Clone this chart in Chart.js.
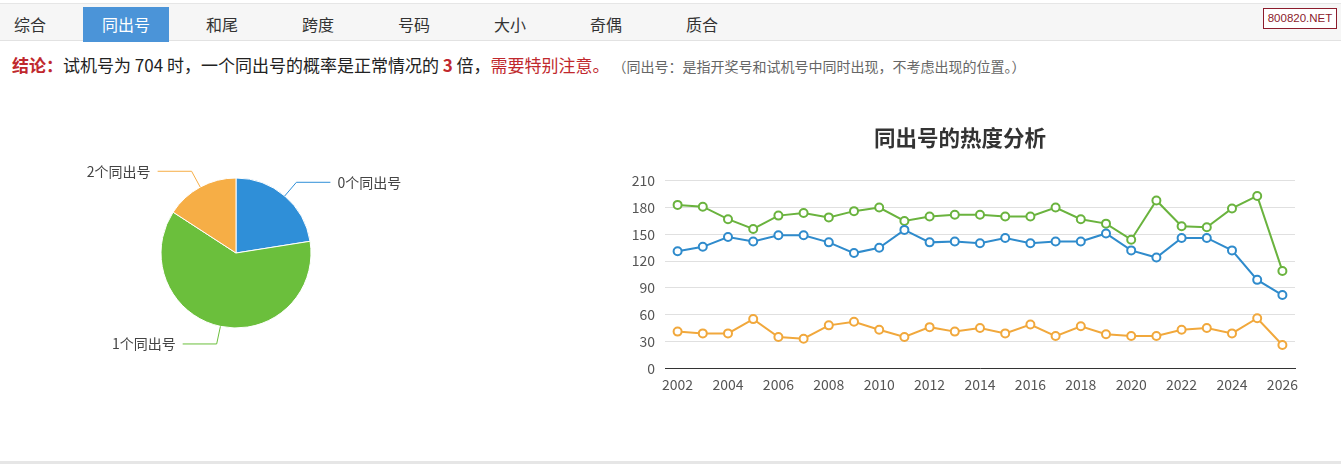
<!DOCTYPE html>
<html>
<head>
<meta charset="utf-8">
<script src="https://cdn.jsdelivr.net/npm/chart.js@4.4.1/dist/chart.umd.min.js"></script>
<style>
  html,body{margin:0;padding:0;background:#fff;width:1341px;height:464px;overflow:hidden;
    font-family:"Microsoft YaHei","Noto Sans CJK SC","Noto Sans",sans-serif;}
  #tabbar{position:absolute;left:0;top:3px;width:1341px;height:38px;background:#f6f6f6;
    border-top:1px solid #e6e6e6;border-bottom:1px solid #e2e2e2;box-sizing:border-box;}
  .tab{position:absolute;top:3px;width:86px;height:35px;line-height:34px;text-align:center;
    font-size:16px;color:#333;}
  .tab.active{background:#4b94d8;color:#fff;}
  #logo{position:absolute;left:1263px;top:8px;width:74px;height:21px;box-sizing:border-box;
    border:1px solid #8c1c2c;background:#fff;color:#8c1c2c;font-family:"Liberation Sans",Arial,sans-serif;
    font-size:11.5px;line-height:19px;text-align:center;}
  #concl{position:absolute;left:12px;top:52px;white-space:nowrap;font-size:17px;color:#222;line-height:26px;}
  #concl .r{color:#c0282d;}
  #concl .b{font-weight:bold;}
  #concl .note{color:#666;font-size:14px;margin-left:10px;}
  #bottomline{position:absolute;left:0;top:461px;width:1341px;height:3px;background:#e6e6e6;}
  #pieWrap{position:absolute;left:0;top:103px;width:472px;height:300px;}
  #lineWrap{position:absolute;left:625px;top:110px;width:720px;height:300px;}
</style>
</head>
<body>
<div id="tabbar"></div>
<div id="logo">800820.NET</div>
<div id="concl"><span class="r b">结论：</span>试机号为 704 时，一个同出号的概率是正常情况的 <span class="r b">3</span> 倍，<span class="r">需要特别注意。</span><span class="note">（同出号：是指开奖号和试机号中同时出现，不考虑出现的位置。）</span></div>
<div id="bottomline"></div>
<div id="pieWrap"><canvas id="pie"></canvas></div>
<div id="lineWrap"><canvas id="line"></canvas></div>
<script>
// ---- data ----
const tabs = ['综合','同出号','和尾','跨度','号码','大小','奇偶','质合'];
const pieLabels = ['0个同出号','1个同出号','2个同出号'];
const pieValues = [27, 74, 19];
const years = ['2002','2003','2004','2005','2006','2007','2008','2009','2010','2011','2012','2013','2014',
  '2015','2016','2017','2018','2019','2020','2021','2022','2023','2024','2025','2026'];
const zeroSame = [131,136,147,142,149,149,141,129,135,155,141,142,140,146,140,142,142,151,132,124,146,146,132,99,82];
const oneSame  = [183,181,167,156,171,174,169,176,180,165,170,172,172,170,170,180,167,162,144,188,159,158,179,193,109];
const twoSame  = [41,39,39,55,35,33,48,52,43,35,46,41,45,39,49,36,47,38,36,36,43,45,39,56,26];
const lineTitle = '同出号的热度分析';

// ---- tabs ----
const bar = document.getElementById('tabbar');
tabs.forEach((t,i)=>{
  const d = document.createElement('div');
  d.className = 'tab' + (i===1?' active':'');
  d.style.left = (83 + (i-1)*96) + 'px';
  d.textContent = t;
  bar.appendChild(d);
});

const FONT = '"Microsoft YaHei","Noto Sans CJK SC","Noto Sans",sans-serif';
Chart.defaults.font.family = FONT;
Chart.defaults.animation = false;

const pieColors = ['#2f8fd8','#6bbf3c','#f6ae46'];

const leaderPlugin = {
  id:'leader',
  afterDatasetsDraw(chart){
    const ctx = chart.ctx;
    const meta = chart.getDatasetMeta(0);
    meta.data.forEach((arc,i)=>{
      const p = arc.getProps(['x','y','startAngle','endAngle','outerRadius'], true);
      const mid = (p.startAngle + p.endAngle)/2;
      const c = Math.cos(mid), s = Math.sin(mid);
      const x0 = p.x + p.outerRadius*c, y0 = p.y + p.outerRadius*s;
      const x1 = p.x + (p.outerRadius+18)*c, y1 = p.y + (p.outerRadius+18)*s;
      const dir = c >= 0 ? 1 : -1;
      const x2 = x1 + dir*34;
      ctx.save();
      ctx.strokeStyle = pieColors[i];
      ctx.lineWidth = 1;
      ctx.beginPath(); ctx.moveTo(x0,y0); ctx.lineTo(x1,y1); ctx.lineTo(x2,y1); ctx.stroke();
      ctx.fillStyle = '#444';
      ctx.font = '14px ' + FONT;
      ctx.textAlign = dir>0 ? 'left' : 'right';
      ctx.textBaseline = 'middle';
      ctx.fillText(chart.data.labels[i], x2 + dir*7, y1);
      ctx.restore();
    });
  }
};

new Chart(document.getElementById('pie'), {
  type:'pie',
  data:{labels:pieLabels, datasets:[{data:pieValues, backgroundColor:pieColors, borderColor:'#fff', borderWidth:1}]},
  options:{
    responsive:true, maintainAspectRatio:false,
    radius:75,
    events:[],
    plugins:{legend:{display:false}, tooltip:{enabled:false}}
  },
  plugins:[leaderPlugin]
});

const lineColors = {zero:'#2f8bcc', one:'#6ab33e', two:'#f1a83c'};
function ds(label, data, color){
  return {label, data, borderColor:color, backgroundColor:'#fff', borderWidth:2,
    pointRadius:4, pointBorderWidth:2, pointBackgroundColor:'#fff', pointBorderColor:color,
    tension:0, fill:false};
}

new Chart(document.getElementById('line'), {
  type:'line',
  data:{labels:years, datasets:[
    ds('0个同出号', zeroSame, lineColors.zero),
    ds('1个同出号', oneSame, lineColors.one),
    ds('2个同出号', twoSame, lineColors.two)
  ]},
  options:{
    responsive:true, maintainAspectRatio:false,
    events:[],
    layout:{padding:{left:0,right:50,top:0,bottom:9}},
    plugins:{
      legend:{display:false}, tooltip:{enabled:false},
      title:{display:true, text:lineTitle, color:'#333', font:{size:21.5, weight:'bold', family:FONT},
        padding:{top:15,bottom:30}}
    },
    scales:{
      x:{
        offset:true,
        grid:{display:false, drawTicks:false},
        border:{display:true, color:'#333', width:1},
        ticks:{color:'#555', font:{size:14}, padding:8, autoSkip:false, maxRotation:0,
          callback(v,i){ return i%2===0 ? this.getLabelForValue(v) : ''; }}
      },
      y:{
        min:0, max:210,
        grid:{color:'#e0e0e0', drawTicks:false},
        border:{display:false},
        ticks:{stepSize:30, color:'#555', font:{size:14}, padding:10},
        afterFit(scale){ scale.width = 40; }
      }
    }
  }
});
</script>
</body>
</html>
